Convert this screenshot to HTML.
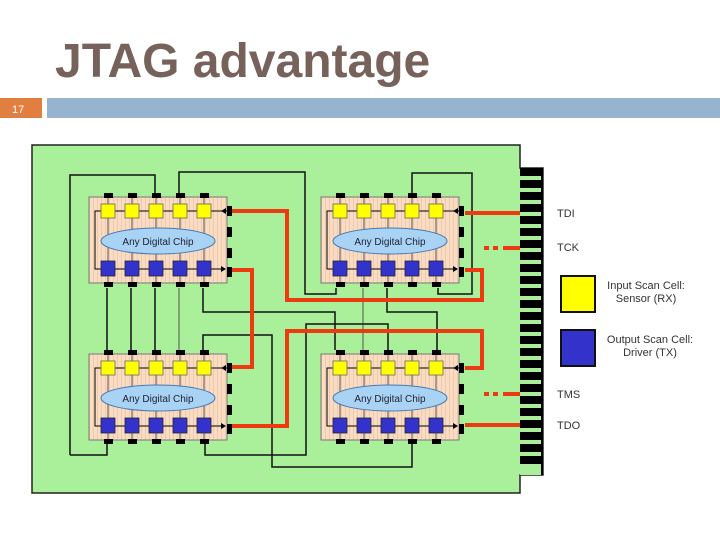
<!DOCTYPE html>
<html><head><meta charset="utf-8"><style>
html,body{margin:0;padding:0;background:#fff;width:720px;height:540px;overflow:hidden}
svg{display:block}
</style></head><body>
<svg width="720" height="540" viewBox="0 0 720 540" xmlns="http://www.w3.org/2000/svg" font-family="Liberation Sans, sans-serif">
<defs>
<pattern id="st" width="4" height="4" patternUnits="userSpaceOnUse"><rect width="4" height="4" fill="#fadcc2"/><rect width="1" height="4" fill="#efc9ad"/></pattern>
<g id="chip">
<rect x="0" y="0" width="138" height="86" fill="url(#st)" stroke="#777" stroke-width="1"/>
<g stroke="#555" stroke-width="1">
<line x1="19" y1="0" x2="19" y2="86"/><line x1="43" y1="0" x2="43" y2="86"/><line x1="67" y1="0" x2="67" y2="86"/><line x1="91" y1="0" x2="91" y2="86"/><line x1="115" y1="0" x2="115" y2="86"/>
</g>
<polyline points="138,14 6,14 6,72 136,72" fill="none" stroke="#000" stroke-width="1"/>
<path d="M132,14l5,-3v6z" fill="#000"/>
<path d="M132,69l5,3l-5,3z" fill="#000"/>
<g fill="#ffff00" stroke="#666" stroke-width="0.8">
<rect x="12" y="7" width="14" height="14"/><rect x="36" y="7" width="14" height="14"/><rect x="60" y="7" width="14" height="14"/><rect x="84" y="7" width="14" height="14"/><rect x="108" y="7" width="14" height="14"/>
</g>
<g fill="#3333cc" stroke="#223" stroke-width="0.8">
<rect x="12" y="64" width="14" height="15"/><rect x="36" y="64" width="14" height="15"/><rect x="60" y="64" width="14" height="15"/><rect x="84" y="64" width="14" height="15"/><rect x="108" y="64" width="14" height="15"/>
</g>
<ellipse cx="69" cy="44" rx="57" ry="13" fill="#a9d3f5" stroke="#4a78b0" stroke-width="1"/>
<g fill="#000">
<rect x="15" y="-4" width="9" height="5"/><rect x="39" y="-4" width="9" height="5"/><rect x="63" y="-4" width="9" height="5"/><rect x="87" y="-4" width="9" height="5"/><rect x="111" y="-4" width="9" height="5"/>
<rect x="15" y="85" width="9" height="5"/><rect x="39" y="85" width="9" height="5"/><rect x="63" y="85" width="9" height="5"/><rect x="87" y="85" width="9" height="5"/><rect x="111" y="85" width="9" height="5"/>
<rect x="138" y="9" width="5" height="10"/><rect x="138" y="30" width="5" height="10"/><rect x="138" y="51" width="5" height="10"/><rect x="138" y="70" width="5" height="10"/>
</g>
</g>
</defs>

<text x="55" y="77" font-size="48" font-weight="bold" fill="#76625a">JTAG advantage</text>
<rect x="0" y="98" width="42" height="20" fill="#e07f3f"/>
<text x="12" y="113" font-size="11" fill="#fff">17</text>
<rect x="47" y="98" width="673" height="20" fill="#96b3cf"/>

<path d="M32,145H520V168H543V475H520V493H32Z" fill="#aaf09a" stroke="#222" stroke-width="1.5"/>
<rect x="520" y="168" width="23" height="307" fill="#aaf09a"/>
<g fill="#000">
<rect x="520" y="168" width="23" height="8"/><rect x="520" y="180" width="23" height="8"/><rect x="520" y="192" width="23" height="8"/><rect x="520" y="204" width="23" height="8"/><rect x="520" y="216" width="23" height="8"/><rect x="520" y="228" width="23" height="8"/><rect x="520" y="240" width="23" height="8"/><rect x="520" y="252" width="23" height="8"/><rect x="520" y="264" width="23" height="8"/><rect x="520" y="276" width="23" height="8"/><rect x="520" y="288" width="23" height="8"/><rect x="520" y="300" width="23" height="8"/><rect x="520" y="312" width="23" height="8"/><rect x="520" y="324" width="23" height="8"/><rect x="520" y="336" width="23" height="8"/><rect x="520" y="348" width="23" height="8"/><rect x="520" y="360" width="23" height="8"/><rect x="520" y="372" width="23" height="8"/><rect x="520" y="384" width="23" height="8"/><rect x="520" y="396" width="23" height="8"/><rect x="520" y="408" width="23" height="8"/><rect x="520" y="420" width="23" height="8"/><rect x="520" y="432" width="23" height="8"/><rect x="520" y="444" width="23" height="8"/><rect x="520" y="456" width="23" height="8"/>
<rect x="541" y="168" width="2" height="307"/>
</g>

<g fill="none" stroke="#111" stroke-width="1.5">
<polyline points="70,455 70,175 155,175 155,193"/>
<polyline points="70,455 107,455 107,444"/>
<polyline points="179,193 179,172 305,172 305,294 336,294 336,288"/>
<polyline points="412,193 412,173 472,173 472,294 438,294 438,288"/>
<line x1="107" y1="288" x2="107" y2="350"/>
<line x1="131" y1="288" x2="131" y2="350"/>
<line x1="155" y1="288" x2="155" y2="350"/>
<polyline points="203,288 203,312 335,312 335,350"/>
<polyline points="387,288 387,312 437,312 437,350"/>
<polyline points="203,350 203,335 272,335 272,467 412,467 412,444"/>
<polyline points="205,444 205,455 306,455 306,324 388,324 388,350"/>
</g>
<g fill="none" stroke="#333" stroke-width="0.8">
<line x1="179" y1="288" x2="179" y2="350"/>
<line x1="363" y1="288" x2="363" y2="350"/>
</g>

<g fill="none" stroke="#ee3a10" stroke-width="4">
<line x1="465" y1="213" x2="520" y2="213"/>
<polyline points="465,270 482,270 482,300 287,300 287,211 232,211"/>
<polyline points="232,270 252,270 252,367 232,367"/>
<polyline points="232,426 287,426 287,331 482,331 482,368 465,368"/>
<line x1="465" y1="425" x2="520" y2="425"/>
<line x1="503" y1="248" x2="520" y2="248"/>
<line x1="503" y1="394" x2="520" y2="394"/>
<line x1="484" y1="248" x2="489" y2="248"/>
<line x1="493" y1="248" x2="498" y2="248"/>
<line x1="484" y1="394" x2="489" y2="394"/>
<line x1="493" y1="394" x2="498" y2="394"/>
</g>

<use href="#chip" x="89" y="197"/>
<use href="#chip" x="321" y="197"/>
<use href="#chip" x="89" y="354"/>
<use href="#chip" x="321" y="354"/>
<g font-size="10" fill="#223" text-anchor="middle">
<text x="158" y="245">Any Digital Chip</text>
<text x="390" y="245">Any Digital Chip</text>
<text x="158" y="402">Any Digital Chip</text>
<text x="390" y="402">Any Digital Chip</text>
</g>

<g font-size="11" fill="#333">
<text x="557" y="217">TDI</text>
<text x="557" y="251">TCK</text>
<text x="557" y="398">TMS</text>
<text x="557" y="429">TDO</text>
</g>
<rect x="561" y="276" width="34" height="36" fill="#ffff00" stroke="#111" stroke-width="2"/>
<rect x="561" y="330" width="34" height="36" fill="#3333cc" stroke="#111" stroke-width="2"/>
<g font-size="11" fill="#333" text-anchor="middle">
<text x="646" y="289">Input Scan Cell:</text>
<text x="646" y="302">Sensor (RX)</text>
<text x="650" y="343">Output Scan Cell:</text>
<text x="650" y="356">Driver (TX)</text>
</g>
</svg>
</body></html>
